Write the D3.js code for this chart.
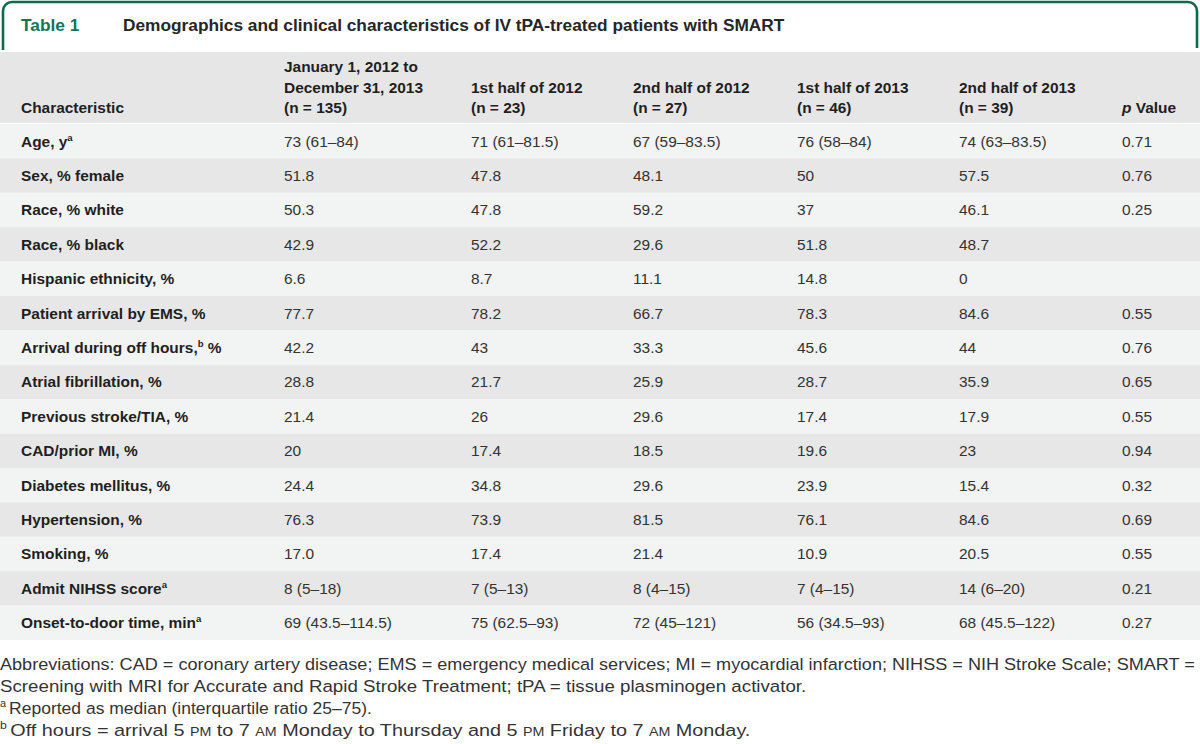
<!DOCTYPE html>
<html>
<head>
<meta charset="utf-8">
<script src="https://cdn.jsdelivr.net/npm/d3@7/dist/d3.min.js"></script>
<style>
  html, body { margin: 0; padding: 0; background: #ffffff; }
  svg { display: block; }
</style>
</head>
<body>
<svg id="chart" width="1200" height="744"></svg>
<script>
// ---------------- DATA ----------------
const tableLabel = "Table 1";
const tableTitle = "Demographics and clinical characteristics of IV tPA-treated patients with SMART";

const columnKeys = ["characteristic", "total", "h1_2012", "h2_2012", "h1_2013", "h2_2013", "p"];
const columnHeaders = [
  ["Characteristic"],
  ["January 1, 2012 to", "December 31, 2013", "(n = 135)"],
  ["1st half of 2012", "(n = 23)"],
  ["2nd half of 2012", "(n = 27)"],
  ["1st half of 2013", "(n = 46)"],
  ["2nd half of 2013", "(n = 39)"],
  ["p Value"]
];

// label: [text before superscript, superscript, text after]
const characteristics = [
  ["Age, y", "a", ""],
  ["Sex, % female", "", ""],
  ["Race, % white", "", ""],
  ["Race, % black", "", ""],
  ["Hispanic ethnicity, %", "", ""],
  ["Patient arrival by EMS, %", "", ""],
  ["Arrival during off hours,", "b", " %"],
  ["Atrial fibrillation, %", "", ""],
  ["Previous stroke/TIA, %", "", ""],
  ["CAD/prior MI, %", "", ""],
  ["Diabetes mellitus, %", "", ""],
  ["Hypertension, %", "", ""],
  ["Smoking, %", "", ""],
  ["Admit NIHSS score", "a", ""],
  ["Onset-to-door time, min", "a", ""]
];

const total2012to2013 = ["73 (61–84)", "51.8", "50.3", "42.9", "6.6", "77.7", "42.2", "28.8", "21.4", "20", "24.4", "76.3", "17.0", "8 (5–18)", "69 (43.5–114.5)"];
const firstHalf2012   = ["71 (61–81.5)", "47.8", "47.8", "52.2", "8.7", "78.2", "43", "21.7", "26", "17.4", "34.8", "73.9", "17.4", "7 (5–13)", "75 (62.5–93)"];
const secondHalf2012  = ["67 (59–83.5)", "48.1", "59.2", "29.6", "11.1", "66.7", "33.3", "25.9", "29.6", "18.5", "29.6", "81.5", "21.4", "8 (4–15)", "72 (45–121)"];
const firstHalf2013   = ["76 (58–84)", "50", "37", "51.8", "14.8", "78.3", "45.6", "28.7", "17.4", "19.6", "23.9", "76.1", "10.9", "7 (4–15)", "56 (34.5–93)"];
const secondHalf2013  = ["74 (63–83.5)", "57.5", "46.1", "48.7", "0", "84.6", "44", "35.9", "17.9", "23", "15.4", "84.6", "20.5", "14 (6–20)", "68 (45.5–122)"];
const pValues         = ["0.71", "0.76", "0.25", "", "", "0.55", "0.76", "0.65", "0.55", "0.94", "0.32", "0.69", "0.55", "0.21", "0.27"];

// footnotes: arrays of [text, style] segments; style: "" normal, "sup" superscript, "sc" small caps
const footnotes = [
  [["Abbreviations: CAD = coronary artery disease; EMS = emergency medical services; MI = myocardial infarction; NIHSS = NIH Stroke Scale; SMART =", ""]],
  [["Screening with MRI for Accurate and Rapid Stroke Treatment; tPA = tissue plasminogen activator.", ""]],
  [["a", "sup"], ["Reported as median (interquartile ratio 25–75).", ""]],
  [["b", "sup"], ["Off hours = arrival 5 ", ""], ["PM", "sc"], [" to 7 ", ""], ["AM", "sc"], [" Monday to Thursday and 5 ", ""], ["PM", "sc"], [" Friday to 7 ", ""], ["AM", "sc"], [" Monday.", ""]]
];

// ---------------- BUILD ----------------
const valueColumns = [total2012to2013, firstHalf2012, secondHalf2012, firstHalf2013, secondHalf2013, pValues];
const rows = characteristics.map((c, i) => ({
  label: c,
  values: valueColumns.map(col => col[i])
}));

const W = 1200, H = 744;
const svg = d3.select("#chart");

const boldFont = "'Liberation Sans', Arial, sans-serif";
const regFont = "'Liberation Sans', Arial, sans-serif";
const green = "#0d6b4a";
const textDark = "#1f1f1f";
const textBody = "#333333";

function measure(str, font, size, weight) {
  const t = svg.append("text").attr("font-family", font).attr("font-size", size)
    .attr("font-weight", weight).text(str);
  const w = t.node().getComputedTextLength();
  t.remove();
  return w;
}

// font sizes fitted to reference widths
const boldSize = 15 * 103 / measure("Characteristic", boldFont, 15, "bold");
const regSize = 15 * 108 / measure("69 (43.5–114.5)", regFont, 15, "normal");
const titleSize = 16 * 662 / measure(tableTitle, boldFont, 16, "bold");

// scales
const x = d3.scaleOrdinal().domain(columnKeys).range([21, 284, 471, 633, 797, 959, 1122]);
const y = d3.scaleBand().domain(d3.range(rows.length)).range([124, 640]).padding(0);

// ----- Title tab -----
const r = 9;
const tab = d3.path();
tab.moveTo(3, 50);
tab.lineTo(3, 2 + r);
tab.arcTo(3, 2, 3 + r, 2, r);
tab.lineTo(1197 - r, 2);
tab.arcTo(1197, 2, 1197, 2 + r, r);
tab.lineTo(1197, 48);
svg.append("path").attr("d", tab.toString()).attr("fill", "none")
  .attr("stroke", green).attr("stroke-width", 2.6);

svg.append("text").attr("x", 21).attr("y", 31)
  .attr("font-family", boldFont).attr("font-weight", "bold").attr("font-size", titleSize)
  .attr("fill", "#137552").text(tableLabel);
svg.append("text").attr("x", 123).attr("y", 31)
  .attr("font-family", boldFont).attr("font-weight", "bold").attr("font-size", titleSize)
  .attr("fill", "#262626").text(tableTitle);

// ----- Header -----
svg.append("rect").attr("x", 0).attr("y", 52).attr("width", W).attr("height", 71)
  .attr("fill", "#e6e6e6");

const headerBase = 113, lineH = 20.5;
const hdr = svg.append("g").attr("class", "header");
columnKeys.forEach((k, ci) => {
  const lines = columnHeaders[ci];
  const t = hdr.append("text")
    .attr("font-family", boldFont).attr("font-weight", "bold").attr("font-size", boldSize)
    .attr("fill", textDark);
  lines.forEach((ln, li) => {
    const yy = headerBase - (lines.length - 1 - li) * lineH;
    if (k === "p") {
      const ts = t.append("tspan").attr("x", x(k)).attr("y", yy);
      ts.append("tspan").attr("font-style", "italic").text("p");
      ts.append("tspan").text(ln.slice(1));
    } else {
      t.append("tspan").attr("x", x(k)).attr("y", yy).text(ln);
    }
  });
});

// ----- Body rows -----
const body = svg.append("g").attr("class", "body");
const rowG = body.selectAll("g.row").data(rows).join("g").attr("class", "row")
  .attr("transform", (d, i) => `translate(0,${y(i)})`);

rowG.append("rect").attr("x", 0).attr("y", 0).attr("width", W).attr("height", y.bandwidth())
  .attr("fill", (d, i) => i % 2 === 0 ? "#f2f3f3" : "#e7e7e7");

const baseOff = y.bandwidth() / 2 + 5.3;

const lab = rowG.append("text").attr("x", x("characteristic")).attr("y", baseOff)
  .attr("font-family", boldFont).attr("font-weight", "bold").attr("font-size", boldSize)
  .attr("fill", textDark);
lab.append("tspan").text(d => d.label[0]);
lab.filter(d => d.label[1]).append("tspan")
  .attr("font-size", boldSize * 0.62).attr("dy", -6).text(d => d.label[1]);
lab.filter(d => d.label[2]).append("tspan")
  .attr("dy", 6).text(d => d.label[2]);

rowG.each(function (d) {
  const g = d3.select(this);
  g.selectAll("text.val").data(d.values).join("text").attr("class", "val")
    .attr("x", (v, j) => x(columnKeys[j + 1])).attr("y", baseOff)
    .attr("font-family", regFont).attr("font-size", regSize)
    .attr("fill", textBody).text(v => v);
});

// ----- Footnotes (each line horizontally fitted to the reference's line length) -----
const fnSize = 17.2;
const fnWidths = [1195, 806, 372, 750];
const fnBase = [670, 692, 714, 736];
const fn = svg.append("g").attr("class", "footnotes");
footnotes.forEach((segs, i) => {
  const g = fn.append("g");
  const t = g.append("text").attr("x", 0).attr("y", fnBase[i])
    .attr("font-family", regFont).attr("font-size", fnSize).attr("fill", textBody);
  let prevSup = false;
  segs.forEach(([s, st]) => {
    const ts = t.append("tspan").text(s);
    if (st === "sup") {
      ts.attr("font-size", fnSize * 0.62).attr("dy", -6.5);
      prevSup = true;
    } else {
      if (prevSup) { ts.attr("dy", 6.5).attr("dx", 3); prevSup = false; }
      if (st === "sc") ts.attr("font-size", fnSize * 0.72);
    }
  });
  const bw = t.node().getBBox().width;
  g.attr("transform", `scale(${fnWidths[i] / bw},1)`);
});
</script>
</body>
</html>
